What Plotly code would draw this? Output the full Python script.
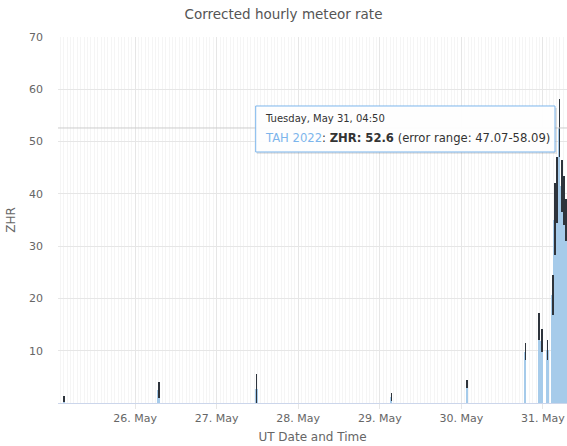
import plotly.graph_objects as go

# Hourly ZHR samples for the TAH 2022 outburst (UT)
times = [
    "2022-05-25 03:10", "2022-05-26 07:00", "2022-05-27 11:45", "2022-05-29 03:25",
    "2022-05-30 01:45", "2022-05-30 18:50", "2022-05-30 22:50", "2022-05-30 23:40",
    "2022-05-31 01:20", "2022-05-31 02:50", "2022-05-31 03:30", "2022-05-31 04:10",
    "2022-05-31 04:50", "2022-05-31 05:30", "2022-05-31 06:10", "2022-05-31 06:50",
]
zhr = [0.7, 2.4, 2.6, 1.1, 3.5, 9.7, 14.3, 11.9, 10.1, 20.6, 35.0, 40.5, 52.6, 41.5, 38.5, 35.0]
zhr_low = [0.2, 0.9, 0.0, 0.4, 2.8, 8.2, 12.0, 9.8, 8.2, 16.8, 28.3, 34.5, 47.07, 36.5, 34.0, 31.0]
zhr_high = [1.4, 4.1, 5.6, 1.9, 4.4, 11.5, 17.2, 14.1, 12.0, 24.5, 42.0, 47.0, 58.09, 46.5, 43.5, 39.0]

day_ticks = ["2022-05-26", "2022-05-27", "2022-05-28", "2022-05-29", "2022-05-30", "2022-05-31"]
day_labels = ["26. May", "27. May", "28. May", "29. May", "30. May", "31. May"]
y_ticks = [10, 20, 30, 40, 50, 60, 70]

series_name = "TAH 2022"
hover_time = "Tuesday, May 31, 04:50"
hover_idx = zhr.index(52.6)

err_plus = [h - z for h, z in zip(zhr_high, zhr)]
err_minus = [z - l for z, l in zip(zhr, zhr_low)]

FONT = "DejaVu Sans"
BAR = "#a6cbea"
SERIES = "#7cb5ec"
ERR = "#2e343c"

fig = go.Figure()
fig.add_trace(go.Bar(
    x=times, y=zhr, name=series_name,
    width=[35 * 60 * 1000] * len(times),
    marker=dict(color=BAR, line=dict(width=0)),
    error_y=dict(type="data", symmetric=False, array=err_plus, arrayminus=err_minus,
                 color=ERR, thickness=1.8, width=0),
    showlegend=False,
))

# horizontal crosshair at the hovered value
fig.add_shape(type="line", xref="paper", x0=0, x1=1, yref="y",
              y0=zhr[hover_idx], y1=zhr[hover_idx],
              line=dict(color="#cccccc", width=1), layer="above")

# tooltip: soft shadow, box, then two text lines
fig.add_shape(type="rect", xref="paper", yref="paper",
              x0=0.3904, x1=0.9804, y0=0.6803, y1=0.806,
              line=dict(width=0), fillcolor="rgba(0,0,0,0.10)", layer="above")
fig.add_shape(type="rect", xref="paper", yref="paper",
              x0=0.3884, x1=0.9764, y0=0.6858, y1=0.8115,
              line=dict(color=SERIES, width=1), fillcolor="rgba(255,255,255,0.96)",
              layer="above")
fig.add_annotation(
    xref="paper", yref="paper", x=0.4022, y=0.776, xanchor="left", yanchor="middle",
    text=hover_time, showarrow=False, align="left",
    font=dict(family=FONT, size=10, color="#333333"),
)
fig.add_annotation(
    xref="paper", yref="paper", x=0.4022, y=0.7249, xanchor="left", yanchor="middle",
    text=(f"<span style='color:{SERIES}'>{series_name}</span>: "
          f"<b>ZHR: {zhr[hover_idx]}</b> (error range: "
          f"{zhr_low[hover_idx]}-{zhr_high[hover_idx]})"),
    showarrow=False, align="left",
    font=dict(family=FONT, size=11.6, color="#333333"),
)

fig.update_layout(
    width=567, height=446,
    margin=dict(l=58, r=0, t=37, b=43),
    paper_bgcolor="white", plot_bgcolor="white",
    bargap=0,
    font=dict(family=FONT, color="#666666", size=11),
    title=dict(text="Corrected hourly meteor rate", x=0.5, xanchor="center",
               y=1 - 14 / 446, yanchor="middle",
               font=dict(family=FONT, size=13.5, color="#555555")),
    xaxis=dict(
        type="date", range=["2022-05-25 01:20", "2022-05-31 07:04"],
        tickvals=day_ticks, ticktext=day_labels,
        showgrid=True, gridcolor="#e6e6e6", gridwidth=1,
        minor=dict(dtick=3600000, tick0="2022-05-26", showgrid=True,
                   gridcolor="#f5f5f5", gridwidth=1),
        showline=True, linecolor="#ccd6eb", linewidth=1,
        ticks="outside", ticklen=5, tickcolor="#e6e6e6",
        tickfont=dict(size=11, color="#666666"),
        title=dict(text="UT Date and Time", standoff=8,
                   font=dict(size=12, color="#666666")),
        zeroline=False, fixedrange=True,
    ),
    yaxis=dict(
        range=[0, 70], tickvals=y_ticks,
        showgrid=True, gridcolor="#e6e6e6", gridwidth=1,
        zeroline=False, showline=False, ticks="",
        ticklabelstandoff=14,
        tickfont=dict(size=11, color="#666666"),
        title=dict(text="ZHR", standoff=10, font=dict(size=12, color="#666666")),
    ),
)

fig.write_html("out.html")
